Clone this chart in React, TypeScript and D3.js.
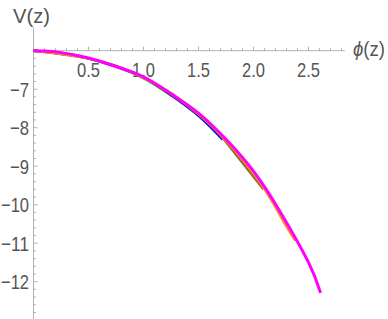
import React, { useEffect, useRef } from 'react';
import * as d3 from 'd3';

// values (phi, V)
const magentaPhi = [0, 0.1, 0.25, 0.5, 0.75, 1.0, 1.25, 1.5, 1.75, 2.0, 2.25, 2.5, 2.61];
const magentaV = [-6, -6.01, -6.05, -6.19, -6.41, -6.68, -7.12, -7.62, -8.3, -9.13, -10.22, -11.5, -12.29];

const greenPhi = [0, 0.25, 0.5, 0.75, 1.0, 1.26];
const greenV = [-6, -6.05, -6.2, -6.42, -6.71, -7.18];

const bluePhi = [0, 0.5, 1.0, 1.25, 1.5, 1.72];
const blueV = [-6, -6.2, -6.7, -7.15, -7.69, -8.31];

const brownPhi = [0, 0.5, 1.0, 1.5, 1.75, 2.09];
const brownV = [-6, -6.2, -6.7, -7.65, -8.37, -9.6];

const orangePhi = [0, 0.5, 1.0, 1.5, 2.0, 2.25, 2.38];
const orangeV = [-6, -6.2, -6.7, -7.64, -9.18, -10.32, -10.93];

const blackPhi = [0, 0.03];
const blackV = [-6, -6.0];

const xTicks = [0.5, 1.0, 1.5, 2.0, 2.5];
const yTicks = [-7, -8, -9, -10, -11, -12];

const series = [
    { phi: blackPhi, v: blackV, color: '#1a1a1a', w: 2.5 },
    { phi: greenPhi, v: greenV, color: '#22c41a', w: 2.5 },
    { phi: bluePhi, v: blueV, color: '#1010c8', w: 2.5 },
    { phi: brownPhi, v: brownV, color: '#9a6a2a', w: 2.5 },
    { phi: orangePhi, v: orangeV, color: '#ff9010', w: 2.5 },
    { phi: magentaPhi, v: magentaV, color: '#ff00ff', w: 3 },
];

const App: React.FC = () => {
    const ref = useRef<SVGSVGElement | null>(null);

    useEffect(() => {
        document.body.style.margin = '0';
        if (!ref.current) return;
        const width = 388;
        const height = 319;
        const font = "'Liberation Sans', sans-serif";

        const x = d3.scaleLinear().domain([0, 1]).range([33.5, 143.5]);
        const y = d3.scaleLinear().domain([-6, -7]).range([50.7, 89.2]);

        const svg = d3.select(ref.current);
        svg.selectAll('*').remove();
        svg.attr('width', width).attr('height', height);

        const axisColor = '#b0b0b0';
        const textColor = '#555555';

        // axes lines
        svg.append('line')
            .attr('x1', x(0)).attr('x2', x(2.83))
            .attr('y1', y(-6)).attr('y2', y(-6))
            .attr('stroke', axisColor).attr('stroke-width', 1);
        svg.append('line')
            .attr('x1', x(0)).attr('x2', x(0))
            .attr('y1', y(-5.4)).attr('y2', y(-13))
            .attr('stroke', axisColor).attr('stroke-width', 1);

        // x ticks (inward = up)
        const xMinor = d3.range(1, 29).map(i => i / 10);
        svg.selectAll('.xt')
            .data(xMinor)
            .enter()
            .append('line')
            .attr('x1', d => x(d)).attr('x2', d => x(d))
            .attr('y1', y(-6))
            .attr('y2', d => y(-6) - (Math.abs(d * 2 - Math.round(d * 2)) < 1e-6 ? 4 : 2.5))
            .attr('stroke', axisColor);

        // y ticks (inward = right)
        const yMinor = d3.range(1, 36).map(i => -6 - i / 5);
        svg.selectAll('.yt')
            .data(yMinor)
            .enter()
            .append('line')
            .attr('y1', d => y(d)).attr('y2', d => y(d))
            .attr('x1', x(0))
            .attr('x2', d => x(0) + (Math.abs(d - Math.round(d)) < 1e-6 ? 4 : 2.5))
            .attr('stroke', axisColor);

        // tick labels (narrow, like the reference)
        svg.selectAll('.xl')
            .data(xTicks)
            .enter()
            .append('text')
            .attr('x', d => x(d) - 11.5)
            .attr('y', 77)
            .attr('font-family', font)
            .attr('font-size', 21)
            .attr('fill', textColor)
            .attr('textLength', 23)
            .attr('lengthAdjust', 'spacingAndGlyphs')
            .text(d => d.toFixed(1));

        svg.selectAll('.yl')
            .data(yTicks)
            .enter()
            .append('text')
            .attr('x', d => (Math.abs(d) >= 10 ? 1 : 10))
            .attr('y', d => y(d) + 7.5)
            .attr('font-family', font)
            .attr('font-size', 21)
            .attr('fill', textColor)
            .attr('textLength', d => (Math.abs(d) >= 10 ? 28 : 19))
            .attr('lengthAdjust', 'spacingAndGlyphs')
            .text(d => '\u2212' + Math.abs(d));

        // axis titles
        svg.append('text')
            .attr('x', 13).attr('y', 23)
            .attr('font-family', font).attr('font-size', 21)
            .attr('fill', textColor)
            .attr('textLength', 37)
            .attr('lengthAdjust', 'spacingAndGlyphs')
            .text('V(z)');
        const t = svg.append('text')
            .attr('x', 353).attr('y', 56)
            .attr('font-family', font).attr('font-size', 21)
            .attr('fill', textColor)
            .attr('textLength', 32)
            .attr('lengthAdjust', 'spacingAndGlyphs');
        t.append('tspan').attr('font-style', 'italic').text('\u03D5');
        t.append('tspan').text('(z)');

        // curves
        const line = d3.line<[number, number]>()
            .x(d => x(d[0]))
            .y(d => y(d[1]))
            .curve(d3.curveNatural);

        series.forEach(s => {
            const pts = s.phi.map((p, i) => [p, s.v[i]] as [number, number]);
            svg.append('path')
                .attr('d', line(pts))
                .attr('fill', 'none')
                .attr('stroke', s.color)
                .attr('stroke-width', s.w)
                .attr('stroke-linecap', 'butt');
        });
    }, []);

    return <svg ref={ref} style={{ display: 'block' }} />;
};

export default App;
